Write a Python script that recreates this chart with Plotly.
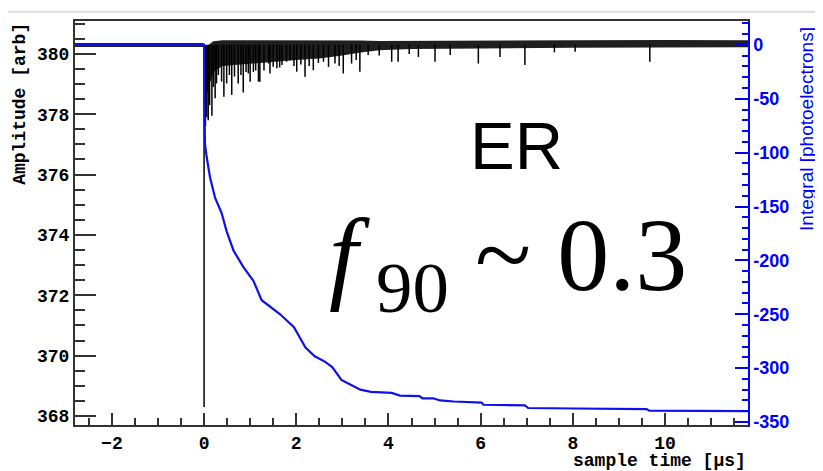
import plotly.graph_objects as go

# noise band of the black waveform (upper / lower envelope), amplitude [arb]
band_t = [-2.8, -0.01, 0.02, 0.1, 0.2, 0.4, 0.8, 1.2, 1.6, 2.0, 2.5, 3.0, 3.4, 3.8, 4.5, 6.0, 8.0, 10.0, 11.8]
band_hi = [380.36, 380.36, 380.15, 380.3, 380.42, 380.45, 380.45, 380.45, 380.46, 380.45, 380.45,
           380.44, 380.44, 380.43, 380.43, 380.44, 380.45, 380.46, 380.45]
band_lo = [380.23, 380.23, 378.4, 378.9, 379.4, 379.6, 379.65, 379.7, 379.75, 379.8, 379.85,
           379.95, 380.05, 380.12, 380.16, 380.18, 380.2, 380.22, 380.22]
baseline = 380.3

# single photoelectron spikes: time [us] and tip amplitude
spike_t = [0.0, 0.03, 0.06, 0.09, 0.12, 0.17, 0.2, 0.24, 0.27, 0.31, 0.38, 0.43, 0.49, 0.55, 0.6,
           0.66, 0.74, 0.8, 0.85, 0.91, 0.96, 1.0, 1.07, 1.12, 1.18, 1.21, 1.3, 1.4, 1.43, 1.5, 1.58,
           1.64, 1.69, 1.79, 1.87, 1.95, 2.01, 2.1, 2.19, 2.28, 2.37, 2.48, 2.59, 2.7, 2.84, 2.93,
           3.02, 3.2, 3.3, 3.38, 3.56, 3.8, 4.07, 4.21, 4.45, 4.65, 5.01, 5.34, 5.95, 6.42, 6.96,
           7.6, 8.05, 9.67]
spike_v = [368.3, 377.6, 377.9, 377.8, 378.3, 377.95, 378.9, 378.53, 379.02, 379.3, 379.08, 378.58,
           379.02, 379.3, 378.64, 379.25, 379.02, 379.3, 378.72, 379.4, 379.35, 379.08, 379.4, 379.45,
           379.08, 379.08, 379.45, 379.68, 379.35, 379.57, 379.52, 379.55, 379.63, 379.74, 379.79,
           379.6, 379.41, 379.65, 379.24, 379.6, 379.46, 379.7, 379.74, 379.57, 379.68, 379.6,
           379.35, 379.68, 379.8, 379.41, 379.96, 379.95, 379.74, 379.74, 380.0, 379.9, 379.74,
           379.96, 379.68, 379.9, 379.63, 380.05, 380.07, 379.74]

# running integral [photoelectrons]
int_t = [-2.8, 0.0, 0.005, 0.02, 0.06, 0.13, 0.24, 0.38, 0.49, 0.64, 0.85, 1.07, 1.25, 1.43, 1.65,
         1.95, 2.2, 2.4, 2.62, 2.78, 2.98, 3.16, 3.39, 3.62, 4.07, 4.25, 4.67, 4.74, 4.97, 5.12, 5.42,
         6.02, 6.06, 6.96, 7.03, 8.05, 9.6, 9.66, 11.8]
int_v = [0, 0, -50, -92, -105, -123, -142, -156, -173, -191, -206, -219, -237, -243, -250,
         -262, -281, -289, -294, -299, -311, -315, -320, -322, -323, -325.5, -326, -328, -328, -330, -331,
         -332, -334, -334.5, -337, -337.5, -338, -339.5, -340]

int_ticks = [0, -50, -100, -150, -200, -250, -300, -350]

mono = "Liberation Mono"
sans = "Liberation Sans"

fig = go.Figure()

# noise band
fig.add_trace(go.Scatter(x=band_t + band_t[::-1], y=band_hi + band_lo[::-1], fill="toself",
                         fillcolor="rgba(0,0,0,0.88)", line=dict(width=0), mode="lines",
                         hoverinfo="skip", showlegend=False))

# spikes
sx, sy = [], []
for t, v in zip(spike_t, spike_v):
    sx += [t, t, None]
    sy += [baseline, v, None]
fig.add_trace(go.Scatter(x=sx, y=sy, mode="lines", line=dict(color="black", width=1.5),
                         showlegend=False))

# integral
fig.add_trace(go.Scatter(x=int_t, y=int_v, yaxis="y2", mode="lines",
                         line=dict(color="#1010ee", width=2.2), showlegend=False))

dark = "#333333"
# the page body adds an 8px offset, so the figure is 8px smaller and margins shifted
fig.update_layout(
    width=815, height=463,
    margin=dict(l=67, r=75, t=11, b=46),
    paper_bgcolor="white", plot_bgcolor="white",
    xaxis=dict(range=[-2.8, 11.8], tick0=0, dtick=2, ticks="inside", ticklen=12, tickwidth=1.5,
               tickcolor=dark, minor=dict(dtick=0.5, ticks="inside", ticklen=7, tickcolor=dark),
               showline=True, linecolor=dark, linewidth=2, mirror=True, showgrid=False,
               zeroline=False, tickfont=dict(family=mono, size=18, color="black", weight="bold")),
    yaxis=dict(range=[367.7, 381.09], tick0=368, dtick=2, ticks="inside", ticklen=21, tickwidth=1.5,
               tickcolor=dark, minor=dict(dtick=0.5, ticks="inside", ticklen=10, tickcolor=dark),
               showline=True, linecolor=dark, linewidth=2, showgrid=False, zeroline=False,
               tickfont=dict(family=mono, size=18, color="black", weight="bold")),
    yaxis2=dict(range=[-352.8, 22.2], overlaying="y", side="right",
                ticks="inside", ticklen=13, tickwidth=1.5, tickcolor="blue",
                minor=dict(dtick=10, ticks="inside", ticklen=6, tickcolor="blue"),
                showline=True, linecolor="blue", linewidth=1.5, showgrid=False, zeroline=False,
                tickvals=int_ticks, ticktext=[str(v) for v in int_ticks],
                tickfont=dict(family=sans, size=18, color="blue", weight="bold")),
)

fig.add_annotation(text="Amplitude [arb]", xref="paper", yref="paper", x=-0.082, y=1.0,
                   xanchor="center", yanchor="top", textangle=-90, showarrow=False,
                   font=dict(family=mono, size=18, color="black", weight="bold"))
fig.add_annotation(text="sample time [\u03bcs]", xref="paper", yref="paper", x=1.0, y=-0.089,
                   xanchor="right", yanchor="middle", showarrow=False,
                   font=dict(family=mono, size=18, color="black", weight="bold"))
fig.add_annotation(text="Integral [photoelectrons]", xref="paper", yref="paper", x=1.086, y=0.99,
                   xanchor="center", yanchor="top", textangle=-90, showarrow=False,
                   font=dict(family=sans, size=19, color="blue"))
fig.add_annotation(text="ER", xref="paper", yref="paper", x=0.656, y=0.692,
                   xanchor="center", yanchor="middle", showarrow=False,
                   font=dict(family=sans, size=67, color="black"))
fig.add_annotation(text="<i>f</i><sub> 90</sub> ~ 0.3", xref="paper", yref="paper", x=0.643, y=0.403,
                   xanchor="center", yanchor="middle", showarrow=False,
                   font=dict(family="Liberation Serif", size=104, color="black"))

fig.add_shape(type="line", xref="paper", yref="paper", x0=-0.11, x1=1.12, y0=1.023, y1=1.023,
              line=dict(color="#dddddd", width=2))

fig.write_html("out.html")
